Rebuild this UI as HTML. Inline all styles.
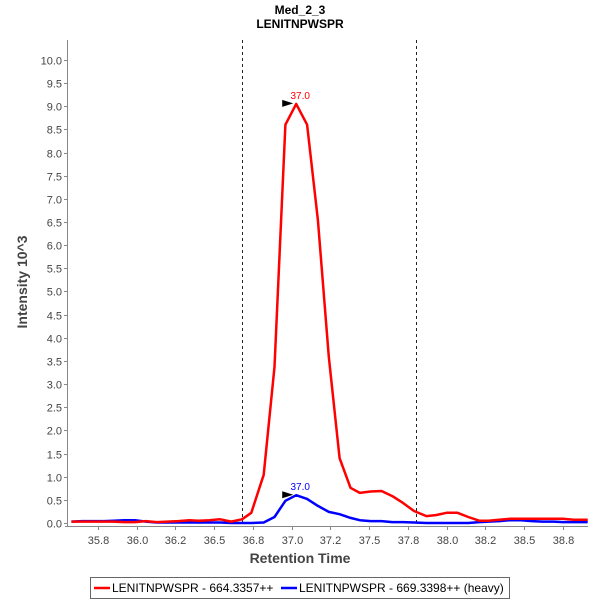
<!DOCTYPE html>
<html><head><meta charset="utf-8"><style>
body{margin:0;background:#fff;font-family:"Liberation Sans",sans-serif}
</style></head><body>
<svg id="c" width="600" height="600" xmlns="http://www.w3.org/2000/svg" font-family="Liberation Sans, sans-serif">
<rect width="600" height="600" fill="#fff"/>
<text x="300" y="14" text-anchor="middle" font-size="12" font-weight="bold">Med_2_3</text>
<text x="300" y="28" text-anchor="middle" font-size="12" font-weight="bold">LENITNPWSPR</text>
<g id="grid"></g>
<g id="marks"></g>
<text x="300" y="563" text-anchor="middle" font-size="14" font-weight="bold" fill="#444">Retention Time</text>
<text transform="translate(27,282) rotate(-90)" text-anchor="middle" font-size="14" font-weight="bold" fill="#444">Intensity 10^3</text>
<g>
<rect x="90.5" y="577.5" width="419" height="21" fill="#fff" stroke="#666"/>
<line x1="94" y1="588" x2="110" y2="588" stroke="#f00" stroke-width="2.5"/>
<text x="112" y="592" font-size="12">LENITNPWSPR - 664.3357++</text>
<line x1="281" y1="588" x2="297" y2="588" stroke="#00f" stroke-width="2.5"/>
<text x="299" y="592" font-size="12">LENITNPWSPR - 669.3398++ (heavy)</text>
</g>
</svg>
<script>
const times=[35.58,35.65,35.72,35.79,35.85,35.92,35.99,36.06,36.13,36.20,36.27,36.34,36.40,36.47,36.54,36.61,36.68,36.74,36.82,36.89,36.96,37.03,37.10,37.17,37.24,37.31,37.38,37.44,37.51,37.58,37.65,37.72,37.79,37.87,37.93,38.00,38.07,38.14,38.21,38.27,38.34,38.41,38.48,38.55,38.62,38.69,38.75,38.82,38.89,38.91];
const lightValues=[0.03,0.03,0.03,0.03,0.03,0.02,0.02,0.04,0.02,0.03,0.04,0.06,0.05,0.06,0.08,0.03,0.08,0.22,1.04,3.37,8.6,9.05,8.6,6.54,3.59,1.40,0.76,0.65,0.68,0.69,0.58,0.43,0.26,0.15,0.17,0.22,0.22,0.13,0.05,0.05,0.07,0.09,0.09,0.09,0.09,0.09,0.09,0.07,0.07,0.07];
const heavyValues=[0.03,0.04,0.04,0.04,0.05,0.06,0.06,0.03,0.01,0.01,0.01,0.01,0.01,0.01,0.01,0,0,0,0.01,0.13,0.48,0.6,0.52,0.37,0.24,0.19,0.11,0.06,0.04,0.04,0.02,0.02,0.01,0,0,0,0,0,0.02,0.03,0.04,0.06,0.06,0.04,0.03,0.03,0.02,0.02,0.02,0.02];
const xTickValues=[35.75,36.0,36.25,36.5,36.75,37.0,37.25,37.5,37.75,38.0,38.25,38.5,38.75];
const xTickLabels=["35.8","36.0","36.2","36.5","36.8","37.0","37.2","37.5","37.8","38.0","38.2","38.5","38.8"];
const yTickValues=[0,0.5,1,1.5,2,2.5,3,3.5,4,4.5,5,5.5,6,6.5,7,7.5,8,8.5,9,9.5,10];
const boundaries=[36.68,37.80];
const peakLabels=["37.0","37.0"];

const L=68,R=588,T=40,B=523;
const xMin=35.558,xMax=38.912,yMax=10.43;
const X=t=>L+(t-xMin)/(xMax-xMin)*(R-L);
const Y=v=>B-v/yMax*(B-T);
const NS="http://www.w3.org/2000/svg";
function mk(tag,attrs,parent){const e=document.createElementNS(NS,tag);for(const k in attrs)e.setAttribute(k,attrs[k]);parent.appendChild(e);return e;}
const g=document.getElementById('grid'),m=document.getElementById('marks');
let e=mk('line',{x1:L-0.5,y1:T,x2:L-0.5,y2:B+3,stroke:'#888'},g);


e=mk('line',{x1:L-3,y1:B+3.5,x2:R,y2:B+3.5,stroke:'#888'},g);


yTickValues.forEach(v=>{const y=Math.round(Y(v))+0.5;
mk('line',{x1:L-4,y1:y,x2:L-1,y2:y,stroke:'#888'},g);
const t=mk('text',{x:L-6,y:y+4,'text-anchor':'end','font-size':11,fill:'#444'},g);t.textContent=v.toFixed(1);

});
xTickValues.forEach((v,i)=>{const x=Math.round(X(v))+0.5;
mk('line',{x1:x,y1:B+4,x2:x,y2:B+7,stroke:'#888'},g);
const t=mk('text',{x:x,y:B+21,'text-anchor':'middle','font-size':11,fill:'#444'},g);t.textContent=xTickLabels[i];

});
boundaries.forEach(b=>{const x=Math.round(X(b))+0.5;
const l=mk('line',{x1:x,y1:T,x2:x,y2:B+3,stroke:'#222','stroke-dasharray':'3,3'},m);

});
function series(vals,color,name,li){
const p=mk('polyline',{points:vals.map((v,i)=>X(times[i]).toFixed(1)+','+Y(v).toFixed(1)).join(' '),fill:'none',stroke:color,'stroke-width':2.5,'stroke-linejoin':'round'},m);


let mi=0;vals.forEach((v,i)=>{if(v>vals[mi])mi=i;});
const px=X(times[mi]),py=Y(vals[mi]);
mk('polygon',{points:`${px-14},${py-4} ${px-14},${py+3} ${px-3},${py-0.5}`,fill:'#000'},m);
const t=mk('text',{x:px+4,y:py-5,'text-anchor':'middle','font-size':10,fill:color},m);t.textContent=peakLabels[li];

}
series(heavyValues,'#00f','heavy-series',1);
series(lightValues,'#f00','light-series',0);
</script>
</body></html>
